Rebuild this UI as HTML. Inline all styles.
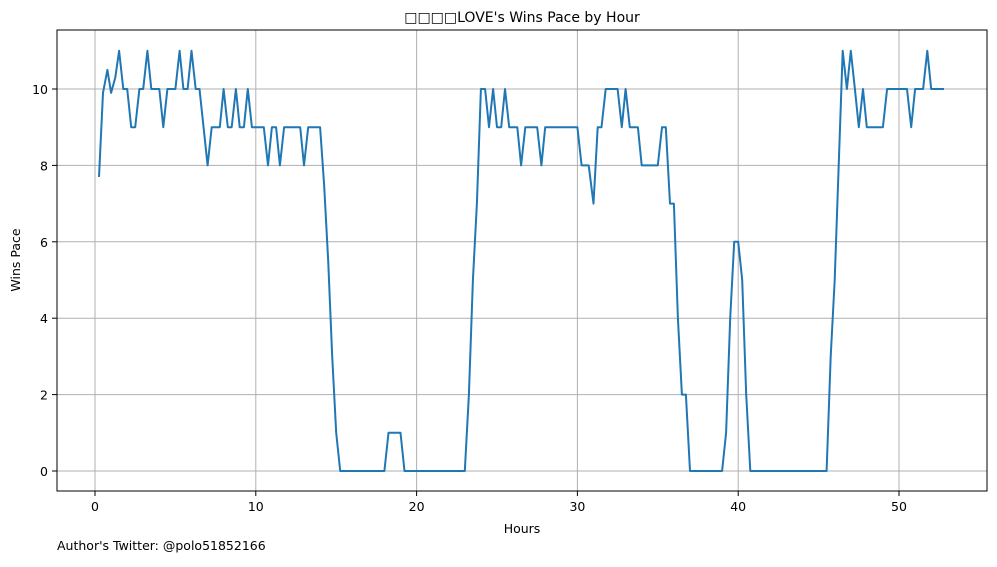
<!DOCTYPE html>
<html><head><meta charset="utf-8"><style>
body{margin:0;background:#fff}
svg text{font-family:"DejaVu Sans","Liberation Sans",sans-serif;fill:#000}
</style></head><body>
<svg width="997" height="562" xmlns="http://www.w3.org/2000/svg">
<rect width="997" height="562" fill="#fff"/>
<g id="grid"></g>
<g id="ticks"></g>
<path id="line" fill="none" stroke="#1f77b4" stroke-width="2" stroke-linejoin="round"/>
<rect x="57" y="30" width="930" height="461" fill="none" stroke="#000" stroke-width="1"/>
<text x="522" y="22" font-size="14" text-anchor="middle">□□□□LOVE's Wins Pace by Hour</text>
<text x="522" y="533" font-size="12.5" text-anchor="middle">Hours</text>
<text x="20" y="260" font-size="12.5" text-anchor="middle" transform="rotate(-90 20 260)">Wins Pace</text>
<text x="57" y="550" font-size="12.5">Author's Twitter: @polo51852166</text>
</svg>
<script>
const hours=[0.25,0.5,0.77,1.0,1.26,1.5,1.76,2.0,2.25,2.5,2.76,3.0,3.26,3.5,4.0,4.25,4.5,5.0,5.26,5.5,5.76,6.0,6.26,6.5,7.0,7.26,7.76,8.0,8.26,8.5,8.76,9.0,9.26,9.5,9.76,10.5,10.76,11.0,11.26,11.5,11.76,12.76,13.0,13.26,14.0,14.25,14.5,14.75,15.0,15.25,18.0,18.25,19.0,19.25,23.0,23.25,23.5,23.75,24.0,24.26,24.5,24.76,25.0,25.26,25.5,25.76,26.26,26.5,26.76,27.5,27.76,28.0,30.0,30.26,30.7,31.0,31.26,31.5,31.76,32.5,32.76,33.0,33.26,33.76,34.0,35.0,35.26,35.5,35.76,36.0,36.25,36.5,36.75,37.0,39.0,39.25,39.5,39.75,40.0,40.25,40.5,40.75,45.5,45.75,46.0,46.25,46.5,46.76,47.0,47.26,47.5,47.76,48.0,49.0,49.26,50.5,50.76,51.0,51.5,51.76,52.0,52.8];
const pace=[7.7,9.9,10.5,9.9,10.3,11,10,10,9,9,10,10,11,10,10,9,10,10,11,10,10,11,10,10,8,9,9,10,9,9,10,9,9,10,9,9,8,9,9,8,9,9,8,9,9,7.5,5.5,3,1,0,0,1,1,0,0,2,5,7,10,10,9,10,9,9,10,9,9,8,9,9,8,9,9,8,8,7,9,9,10,10,9,10,9,9,8,8,9,9,7,7,4,2,2,0,0,1,4,6,6,5,2,0,0,3,5,8,11,10,11,10,9,10,9,9,10,10,9,10,10,11,10,10];
const xTicks=[0,10,20,30,40,50];
const yTicks=[0,2,4,6,8,10];
const xs=h=>95+16.08*h, ys=v=>471-38.2*v;
const NS="http://www.w3.org/2000/svg";
const grid=document.getElementById('grid'), ticks=document.getElementById('ticks');
function mk(tag,attrs,parent){const e=document.createElementNS(NS,tag);for(const k in attrs)e.setAttribute(k,attrs[k]);parent.appendChild(e);return e;}
xTicks.forEach(t=>{
  const x=xs(t);
  const g=mk('line',{x1:x,x2:x,y1:30,y2:491,stroke:'#b0b0b0','stroke-width':1},grid);
  
  
  mk('line',{x1:x,x2:x,y1:491,y2:496,stroke:'#000'},ticks);
  const tx=mk('text',{x:x,y:511,'font-size':12.5,'text-anchor':'middle'},ticks);
  tx.textContent=t;
  
  
});
yTicks.forEach(t=>{
  const y=ys(t);
  const g=mk('line',{x1:57,x2:987,y1:y,y2:y,stroke:'#b0b0b0','stroke-width':1},grid);
  
  
  mk('line',{x1:52,x2:57,y1:y,y2:y,stroke:'#000'},ticks);
  const tx=mk('text',{x:48,y:y+5,'font-size':12.5,'text-anchor':'end'},ticks);
  tx.textContent=t;
  
  
});
document.getElementById('line').setAttribute('d',hours.map((h,i)=>(i?'L':'M')+xs(h).toFixed(1)+' '+ys(pace[i]).toFixed(1)).join(' '));
</script>
</body></html>
